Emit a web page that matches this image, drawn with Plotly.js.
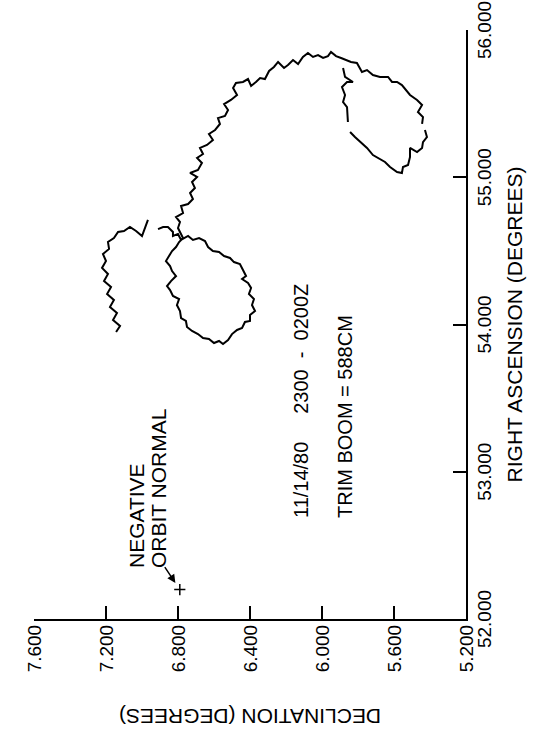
<!DOCTYPE html>
<html>
<head>
<meta charset="utf-8">
<script src="https://cdn.plot.ly/plotly-3.0.1.min.js"></script>
<style>
  html, body { margin: 0; padding: 0; width: 548px; height: 744px; overflow: hidden; background: #fff; }
  /* The chart is laid out landscape and turned a quarter turn counter-clockwise onto the page */
  #plot {
    position: absolute; left: 0; top: 0;
    width: 744px; height: 548px;
    transform-origin: 0 0;
    transform: translateY(744px) rotate(-90deg);
  }
</style>
</head>
<body>
<div id="plot"></div>
<script>
// Axis ticks
const raTicks = [52, 53, 54, 55, 56];
const raLabels = ['52.000', '53.000', '54.000', '55.000', '56.000'];
const decTicks = [5.2, 5.6, 6.0, 6.4, 6.8, 7.2, 7.6];
const decLabels = ['5.200', '5.600', '6.000', '6.400', '6.800', '7.200', '7.600'];

// Attitude track, right ascension / declination in degrees
const tailRA  = [53.949, 53.990, 54.030, 54.078, 54.119, 54.166, 54.207, 54.255, 54.295, 54.343, 54.384, 54.431, 54.479, 54.513, 54.560, 54.587, 54.628, 54.635, 54.662, 54.635, 54.601, 54.655, 54.710];
const tailDec = [7.144, 7.122, 7.161, 7.139, 7.178, 7.156, 7.194, 7.172, 7.211, 7.189, 7.222, 7.200, 7.217, 7.183, 7.189, 7.156, 7.133, 7.100, 7.067, 7.033, 7.000, 6.983, 6.967];

const hookRA  = [54.648, 54.662, 54.662, 54.628, 54.601, 54.615, 54.574];
const hookDec = [6.911, 6.883, 6.856, 6.828, 6.828, 6.800, 6.783];

const lowerLoopRA  = [54.601, 54.574, 54.587, 54.567, 54.526, 54.499, 54.492, 54.465, 54.452, 54.424, 54.411, 54.370, 54.329, 54.309, 54.282, 54.248, 54.207, 54.173, 54.132, 54.092, 54.064, 54.024, 54.017, 53.976, 53.963, 53.935, 53.895, 53.868, 53.888, 53.874, 53.902, 53.908, 53.935, 53.956, 53.983, 54.024, 54.044, 54.092, 54.132, 54.173, 54.194, 54.234, 54.261, 54.295, 54.329, 54.363, 54.397, 54.431, 54.465, 54.499, 54.526, 54.560, 54.587];
const lowerLoopDec = [6.744, 6.717, 6.683, 6.650, 6.633, 6.606, 6.572, 6.544, 6.511, 6.489, 6.456, 6.439, 6.422, 6.444, 6.411, 6.394, 6.406, 6.378, 6.389, 6.372, 6.400, 6.400, 6.428, 6.444, 6.472, 6.500, 6.522, 6.550, 6.572, 6.600, 6.628, 6.661, 6.689, 6.722, 6.750, 6.756, 6.783, 6.789, 6.806, 6.794, 6.828, 6.844, 6.861, 6.839, 6.811, 6.833, 6.844, 6.867, 6.850, 6.833, 6.811, 6.794, 6.772];

const arcRA  = [54.655, 54.696, 54.730, 54.757, 54.805, 54.818, 54.852, 54.893, 54.927, 54.968, 55.002, 55.029, 55.049, 55.097, 55.131, 55.158, 55.199, 55.219, 55.253, 55.294, 55.321, 55.362, 55.402, 55.416, 55.457, 55.497, 55.525, 55.559, 55.606, 55.640, 55.647, 55.667, 55.620, 55.647, 55.674, 55.667, 55.722, 55.749, 55.783, 55.742, 55.762, 55.796, 55.769, 55.817, 55.844, 55.817, 55.830, 55.810, 55.823, 55.851, 55.823, 55.810, 55.796, 55.783];
const arcDec = [6.800, 6.789, 6.811, 6.772, 6.783, 6.744, 6.717, 6.733, 6.706, 6.722, 6.694, 6.733, 6.689, 6.667, 6.694, 6.661, 6.678, 6.639, 6.606, 6.628, 6.594, 6.567, 6.578, 6.539, 6.522, 6.544, 6.506, 6.472, 6.494, 6.478, 6.439, 6.411, 6.394, 6.367, 6.344, 6.317, 6.294, 6.267, 6.244, 6.211, 6.189, 6.161, 6.133, 6.106, 6.078, 6.050, 6.022, 5.994, 5.967, 5.950, 5.922, 5.894, 5.867, 5.839];

// null marks a break in the recorded trace
const upperLoopRA  = [55.776, 55.715, 55.728, 55.694, 55.681, 55.681, 55.647, 55.647, 55.626, 55.592, 55.559, 55.525, 55.491, 55.443, 55.409, 55.362, null, 55.321, 55.273, 55.239, 55.199, 55.171, 55.199, 55.138, 55.083, 55.070, 55.029, 55.036, 55.070, 55.104, 55.131, 55.151, 55.199, 55.239, 55.273, 55.307, null, 55.375, 55.436, 55.477, 55.511, 55.559, 55.613, 55.647, 55.647, 55.681, 55.742];
const upperLoopDec = [5.806, 5.778, 5.750, 5.717, 5.678, 5.633, 5.611, 5.583, 5.556, 5.533, 5.511, 5.472, 5.444, 5.467, 5.439, 5.444, null, 5.428, 5.417, 5.439, 5.444, 5.472, 5.511, 5.511, 5.522, 5.550, 5.556, 5.583, 5.622, 5.650, 5.689, 5.717, 5.750, 5.789, 5.817, 5.844, null, 5.856, 5.861, 5.861, 5.883, 5.872, 5.889, 5.861, 5.828, 5.872, 5.883];

// Negative orbit normal direction
const normalRA = [52.2];
const normalDec = [6.79];

const trackRA  = [].concat(tailRA, [null], hookRA, lowerLoopRA, arcRA, upperLoopRA);
const trackDec = [].concat(tailDec, [null], hookDec, lowerLoopDec, arcDec, upperLoopDec);

const FONT = 'Liberation Sans, Arial, Helvetica, sans-serif';
const NBSP = '\u00a0';

const traces = [
  {
    x: trackRA, y: trackDec, type: 'scatter', mode: 'lines',
    line: { color: '#000', width: 2 }, connectgaps: false, hoverinfo: 'skip'
  },
  {
    x: normalRA, y: normalDec, type: 'scatter', mode: 'markers',
    marker: { symbol: 'cross-thin', size: 8, line: { color: '#000', width: 1.5 } },
    hoverinfo: 'skip'
  }
];

const axisCommon = {
  showgrid: false, zeroline: false,
  showline: true, linewidth: 2, linecolor: '#000',
  ticks: 'inside', ticklen: 13, tickwidth: 2, tickcolor: '#000',
  tickfont: { family: FONT, size: 19, color: '#000' },
  automargin: false, fixedrange: true
};

const layout = {
  width: 744, height: 548,
  margin: { l: 125, r: 30, t: 34, b: 82 },
  paper_bgcolor: '#fff', plot_bgcolor: '#fff',
  showlegend: false,
  font: { family: FONT, color: '#000' },
  xaxis: Object.assign({}, axisCommon, {
    range: [52, 56], tickvals: raTicks, ticktext: raLabels,
    title: { text: 'RIGHT ASCENSION (DEGREES)', font: { family: FONT, size: 21, color: '#000' }, standoff: 14 }
  }),
  yaxis: Object.assign({}, axisCommon, {
    range: [5.2, 7.6], tickvals: decTicks, ticktext: decLabels,
    ticklabelstandoff: 0,
    title: { text: 'DECLINATION (DEGREES)', font: { family: FONT, size: 21, color: '#000' }, standoff: 30 }
  }),
  annotations: [
    {
      x: 52.333, y: 7.028, xref: 'x', yref: 'y',
      text: 'NEGATIVE', showarrow: false,
      xanchor: 'left', yanchor: 'middle',
      font: { family: FONT, size: 21, color: '#000' }
    },
    {
      x: 52.333, y: 6.906, xref: 'x', yref: 'y',
      text: 'ORBIT NORMAL', showarrow: false,
      xanchor: 'left', yanchor: 'middle',
      font: { family: FONT, size: 21, color: '#000' }
    },
    {
      x: normalRA[0], y: normalDec[0], xref: 'x', yref: 'y',
      text: '', showarrow: true, ax: 24, ay: -16,
      arrowhead: 2, arrowsize: 1.1, arrowwidth: 1.5, arrowcolor: '#000', standoff: 8
    },
    {
      x: 52.672, y: 6.117, xref: 'x', yref: 'y',
      text: '11/14/80' + NBSP.repeat(5) + '2300' + NBSP.repeat(2) + '-' + NBSP.repeat(2) + '0200Z',
      showarrow: false, xanchor: 'left', yanchor: 'middle',
      font: { family: FONT, size: 20, color: '#000' }
    },
    {
      x: 52.672, y: 5.872, xref: 'x', yref: 'y',
      text: 'TRIM BOOM = 588CM', showarrow: false,
      xanchor: 'left', yanchor: 'middle',
      font: { family: FONT, size: 20, color: '#000' }
    }
  ]
};

Plotly.newPlot('plot', traces, layout, { staticPlot: true, displayModeBar: false });
</script>
</body>
</html>
